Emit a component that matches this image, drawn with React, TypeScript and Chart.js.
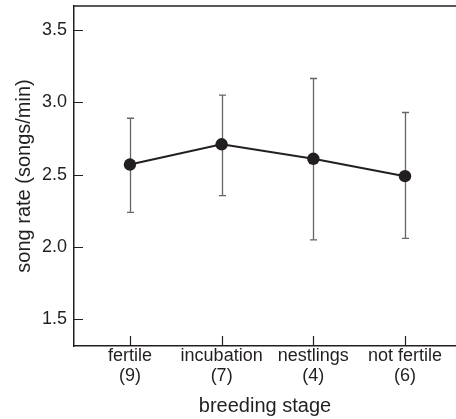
import React, { useEffect, useRef } from "react";
import { Chart, registerables } from "chart.js";

Chart.register(...registerables);

const categories = ["fertile", "incubation", "nestlings", "not fertile"];
const sampleSizes = [9, 7, 4, 6];
const meanRate = [2.57, 2.71, 2.61, 2.49];
const upperRate = [2.89, 3.05, 3.165, 2.93];
const lowerRate = [2.24, 2.355, 2.05, 2.06];
const yTickValues = [1.5, 2.0, 2.5, 3.0, 3.5];

const INK = "#231f20";
const FONT = "'Liberation Sans', Arial, Helvetica, sans-serif";

const framePlugin = {
  id: "frameAndErrorBars",
  beforeDatasetsDraw(chart: any) {
    const { ctx, chartArea, scales } = chart;
    const x = scales.x;
    const y = scales.y;
    ctx.save();
    // error bars
    ctx.strokeStyle = "#666666";
    ctx.lineWidth = 1.3;
    meanRate.forEach((_, i) => {
      const px = Math.round(x.getPixelForValue(i)) + 0.5;
      const top = y.getPixelForValue(upperRate[i]);
      const bot = y.getPixelForValue(lowerRate[i]);
      ctx.beginPath();
      ctx.moveTo(px, top);
      ctx.lineTo(px, bot);
      ctx.moveTo(px - 3.5, top);
      ctx.lineTo(px + 3.5, top);
      ctx.moveTo(px - 3.5, bot);
      ctx.lineTo(px + 3.5, bot);
      ctx.stroke();
    });
    // inward tick marks
    ctx.strokeStyle = INK;
    ctx.lineWidth = 1.2;
    ctx.beginPath();
    x.ticks.forEach((t: any) => {
      const px = Math.round(x.getPixelForValue(t.value)) + 0.5;
      ctx.moveTo(px, chartArea.bottom);
      ctx.lineTo(px, chartArea.bottom - 10);
    });
    y.ticks.forEach((t: any) => {
      const py = Math.round(y.getPixelForValue(t.value)) + 0.5;
      ctx.moveTo(chartArea.left, py);
      ctx.lineTo(chartArea.left + 9, py);
    });
    ctx.stroke();
    // top frame line
    ctx.lineWidth = 1.5;
    ctx.beginPath();
    ctx.moveTo(chartArea.left, chartArea.top);
    ctx.lineTo(chartArea.right, chartArea.top);
    ctx.stroke();
    ctx.restore();
  },
};

export default function App() {
  const canvasRef = useRef<HTMLCanvasElement | null>(null);

  useEffect(() => {
    document.body.style.margin = "0";
    const canvas = canvasRef.current;
    if (!canvas) return;
    const chart = new Chart(canvas, {
      type: "line",
      data: {
        datasets: [
          {
            data: meanRate.map((v, i) => ({ x: i, y: v })),
            borderColor: INK,
            borderWidth: 2,
            pointRadius: 6.2,
            pointBorderWidth: 0,
            pointBackgroundColor: INK,
            pointBorderColor: INK,
            tension: 0,
          },
        ],
      },
      options: {
        animation: false,
        responsive: false,
        layout: { autoPadding: false, padding: { top: 6, left: 0, right: 0, bottom: 0 } },
        plugins: {
          legend: { display: false },
          tooltip: { enabled: false },
        },
        scales: {
          x: {
            type: "linear",
            min: -0.61,
            max: 3.556,
            afterBuildTicks: (scale: any) => {
              scale.ticks = categories.map((_, i) => ({ value: i }));
            },
            afterFit: (scale: any) => {
              scale.height = 73;
              scale.paddingLeft = 0;
              scale.paddingRight = 0;
            },
            grid: { display: false, drawTicks: false },
            border: { display: true, color: INK, width: 1.5 },
            ticks: {
              color: INK,
              padding: 0,
              maxRotation: 0,
              autoSkip: false,
              font: { family: FONT, size: 18, lineHeight: 1.1 },
              callback: (value: any) => {
                const i = Math.round(Number(value));
                return [categories[i], `(${sampleSizes[i]})`];
              },
            },
            title: {
              display: true,
              text: "breeding stage",
              color: INK,
              font: { family: FONT, size: 20, lineHeight: 1.2 },
              padding: { top: 0, bottom: 1 },
            },
          },
          y: {
            type: "linear",
            min: 1.316,
            max: 3.666,
            afterBuildTicks: (scale: any) => {
              scale.ticks = yTickValues.map((v) => ({ value: v }));
            },
            afterFit: (scale: any) => {
              scale.width = 74;
              scale.paddingTop = 0;
              scale.paddingBottom = 0;
            },
            grid: { display: false, drawTicks: false },
            border: { display: true, color: INK, width: 1.5 },
            ticks: {
              color: INK,
              padding: 7,
              font: { family: FONT, size: 18 },
              callback: (value: any) => Number(value).toFixed(1),
            },
            title: {
              display: true,
              text: "song rate (songs/min)",
              color: INK,
              font: { family: FONT, size: 20, lineHeight: 1.2 },
              padding: { top: 12, bottom: 0 },
            },
          },
        },
      },
      plugins: [framePlugin],
    } as any);
    return () => chart.destroy();
  }, []);

  return (
    <div style={{ width: 456, height: 419 }}>
      <canvas ref={canvasRef} width={456} height={419} />
    </div>
  );
}
